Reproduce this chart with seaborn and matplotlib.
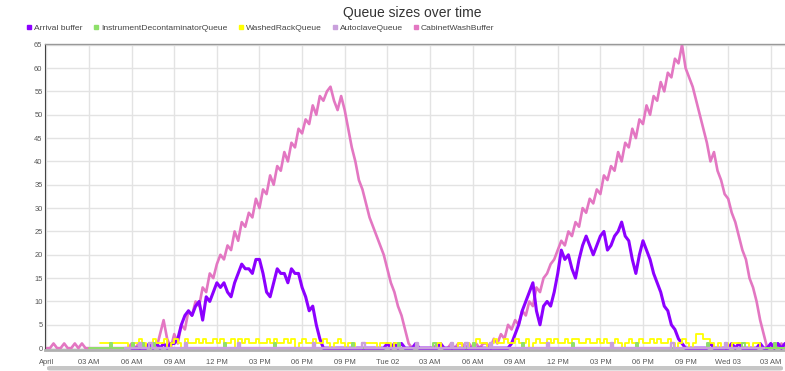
import numpy as np
import pandas as pd
import matplotlib
matplotlib.use("Agg")
import matplotlib.pyplot as plt
from matplotlib.lines import Line2D
from matplotlib.patches import FancyBboxPatch
import seaborn as sns

sns.set_theme(style="white")
plt.rcParams["font.family"] = ["Liberation Sans", "DejaVu Sans"]

# Sampling interval of the queue logs, in hours
STEP = 0.25

# CabinetWashBuffer, sampled every 15 min from 00:00 on April 1
cabinet_wash_start = 0.0
cabinet_wash = [
    0, 0, 1, 0, 0, 1, 0, 0, 1, 0, 1, 0,
    0, 0, 0, 0, 0, 0, 0, 0, 0, 0, 0, 0,
    1, 0, 1, 1, 0, 1, 1, 0, 3, 6, 2, 0,
    3, 1, 5, 4, 8, 7, 10, 9, 13, 12, 16, 15,
    18, 20, 19, 22, 21, 25, 23, 27, 26, 29, 28, 32,
    30, 34, 33, 37, 35, 39, 38, 42, 40, 44, 43, 47,
    46, 49, 48, 52, 50, 54, 53, 55, 56, 53, 51, 54,
    51, 47, 43, 40, 36, 34, 31, 28, 26, 24, 22, 20,
    17, 14, 12, 9, 7, 4, 1, 0, 0, 0, 0, 0,
    0, 0, 1, 0, 0, 0, 1, 0, 1, 1, 0, 1,
    0, 1, 0, 1, 1, 0, 2, 1, 3, 2, 5, 4,
    6, 5, 8, 7, 10, 9, 13, 12, 15, 16, 18, 19,
    21, 23, 22, 25, 24, 27, 26, 30, 29, 32, 31, 34,
    33, 37, 36, 39, 38, 42, 40, 44, 43, 47, 45, 49,
    48, 52, 50, 54, 53, 57, 55, 59, 58, 62, 61, 65,
    60, 58, 56, 53, 50, 47, 44, 40, 42, 38, 36, 33,
    32, 29, 27, 24, 21, 19, 15, 13, 10, 6, 3, 0,
    0, 1, 0, 1, 0,
]

# Arrival buffer, sampled every 15 min from 06:00 on April 1
arrival_start = 6.0
arrival = [
    0, 0, 0, 0, 0, 1, 0, 1, 0, 1, 0, 1,
    1, 2, 5, 7, 8, 7, 9, 10, 6, 11, 10, 12,
    14, 13, 14, 12, 11, 14, 16, 18, 17, 17, 16, 19,
    19, 16, 12, 11, 14, 17, 16, 16, 14, 17, 16, 16,
    13, 11, 8, 9, 5, 2, 0, 0, 0, 0, 0, 0,
    0, 0, 0, 0, 0, 0, 0, 0, 0, 0, 0, 0,
    1, 0, 1, 0, 1, 0, 0, 0, 1, 0, 0, 0,
    0, 0, 0, 1, 0, 0, 0, 0, 0, 0, 0, 0,
    0, 0, 0, 0, 0, 0, 0, 0, 0, 0, 0, 1,
    3, 5, 8, 10, 12, 14, 8, 5, 9, 10, 9, 12,
    16, 21, 19, 20, 17, 15, 19, 22, 24, 22, 20, 22,
    24, 25, 21, 22, 24, 25, 27, 24, 23, 19, 16, 20,
    23, 21, 19, 16, 14, 12, 9, 8, 5, 4, 2, 1,
    0, 0, 0, 0, 0, 0, 0, 1, 0, 0, 0, 0,
    0, 1, 0, 1, 0, 0, 0, 0, 0, 1, 0, 0,
    1, 0, 1, 0, 1,
]

# WashedRackQueue, sampled every 15 min from 03:45 on April 1
washed_rack_start = 3.75
washed_rack = [
    1, 1, 1, 1, 1, 1, 1, 1, 0,
    1, 1, 2, 1, 0, 1, 2, 1, 1, 2, 0, 1,
    2, 1, 0, 2, 1, 1, 2, 1, 2, 1, 1, 2,
    1, 2, 1, 1, 2, 0, 2, 1, 2, 1, 1, 2,
    1, 1, 2, 1, 2, 1, 1, 2, 1, 2, 0, 1,
    2, 1, 1, 2, 1, 1, 2, 1, 0, 1, 2, 1,
    0, 1, 1, 0, 0, 1, 1, 1, 1, 0, 1, 1,
    1, 0, 1, 0, 0, 0, 0, 0, 0, 0, 0, 0,
    0, 0, 1, 0, 0, 0, 0, 0, 1, 0, 1, 0,
    1, 2, 1, 1, 0, 1, 2, 1, 1, 2, 1, 1,
    2, 1, 1, 2, 0, 1, 2, 1, 1, 2, 1, 2,
    1, 1, 2, 1, 2, 2, 1, 1, 2, 1, 1, 2,
    1, 2, 1, 1, 2, 1, 0, 1, 2, 1, 1, 2,
    1, 1, 2, 1, 2, 1, 1, 2, 1, 0, 1, 2,
    1, 0, 1, 3, 3, 2, 2, 1, 0, 1, 0, 1,
    0, 1, 1, 1, 1, 1, 0, 1, 1, 0, 0, 0,
    0, 0, 0, 0, 0,
]

# InstrumentDecontaminatorQueue, change points (hour, size)
decon_hours = [3.0, 4.5, 4.65, 6.0, 6.15, 6.75, 6.9, 7.5, 7.65, 12.5, 12.65,
               16.0, 16.15, 21.5, 21.65, 24.75, 24.9, 27.25, 27.4, 30.0, 30.15,
               33.5, 33.65, 37.0, 37.15, 41.5, 41.65, 46.5, 46.65, 49.0, 49.15,
               51.25, 51.4, 52.0]
decon_sizes = [0, 1, 0, 1, 0, 1, 0, 1, 0, 1, 0,
               1, 0, 1, 0, 1, 0, 1, 0, 1, 0,
               1, 0, 1, 0, 1, 0, 1, 0, 1, 0,
               1, 0, 0]

# AutoclaveQueue, change points (hour, size)
autoclave_hours = [5.5, 6.5, 6.65, 7.25, 7.4, 9.75, 9.9, 13.5, 13.65, 18.75, 18.9,
                   22.25, 22.4, 26.0, 26.15, 28.5, 28.65, 29.5, 29.65, 31.25, 31.4,
                   35.25, 35.4, 39.75, 39.9, 44.0, 44.15, 47.75, 47.9, 50.5]
autoclave_sizes = [0, 1, 0, 1, 0, 1, 0, 1, 0, 1, 0,
                   1, 0, 1, 0, 1, 0, 1, 0, 1, 0,
                   1, 0, 1, 0, 1, 0, 1, 0, 0]

series_names = ["Arrival buffer", "InstrumentDecontaminatorQueue",
                "WashedRackQueue", "AutoclaveQueue", "CabinetWashBuffer"]
series_colors = ["#8c00ff", "#8ee06a", "#ffff00", "#c9a0dc", "#e377c2"]

tick_hours = list(range(0, 52, 3))
tick_labels = ["April", "03 AM", "06 AM", "09 AM", "12 PM", "03 PM", "06 PM",
               "09 PM", "Tue 02", "03 AM", "06 AM", "09 AM", "12 PM", "03 PM",
               "06 PM", "09 PM", "Wed 03", "03 AM"]


def sampled(start, values, name):
    hours = start + STEP * np.arange(len(values))
    return pd.DataFrame({"hour": hours, "size": values, "queue": name})


def stepped(hours, values, name):
    return pd.DataFrame({"hour": hours, "size": values, "queue": name})


frames = {
    "Arrival buffer": sampled(arrival_start, arrival, series_names[0]),
    "InstrumentDecontaminatorQueue": stepped(decon_hours, decon_sizes, series_names[1]),
    "WashedRackQueue": sampled(washed_rack_start, washed_rack, series_names[2]),
    "AutoclaveQueue": stepped(autoclave_hours, autoclave_sizes, series_names[3]),
    "CabinetWashBuffer": sampled(cabinet_wash_start, cabinet_wash, series_names[4]),
}

# drawing order, stroke width and stroke style per queue
layer = {"CabinetWashBuffer": (2, 1.9, "default"),
         "Arrival buffer": (3, 2.2, "default"),
         "WashedRackQueue": (4, 1.3, "steps-post"),
         "InstrumentDecontaminatorQueue": (5, 1.4, "steps-post"),
         "AutoclaveQueue": (6, 1.7, "steps-post")}

W, H = 785, 371
fig = plt.figure(figsize=(W / 100, H / 100), dpi=100)
ax = fig.add_axes([45 / W, 21 / H, 740 / W, 306 / H])

for name, color in zip(series_names, series_colors):
    z, lw, ds = layer[name]
    sns.lineplot(data=frames[name], x="hour", y="size", ax=ax, color=color,
                 estimator=None, sort=False, drawstyle=ds,
                 linewidth=lw, zorder=z, legend=False)

ax.set_xlim(-0.1, 52.0)
ax.set_ylim(-0.4, 65.15)
ax.set_xticks(tick_hours)
ax.set_xticklabels(tick_labels)
ax.set_yticks(range(0, 66, 5))
ax.set_xlabel("")
ax.set_ylabel("")
ax.grid(True, color="#e3e3e3", linewidth=1.0)
ax.set_axisbelow(True)
ax.tick_params(axis="both", length=0, labelsize=5.4, labelcolor="#555555")
ax.tick_params(axis="x", pad=6.3)
ax.tick_params(axis="y", pad=1.8)

for side in ax.spines:
    ax.spines[side].set_visible(False)
ax.spines["left"].set_visible(True)
ax.spines["left"].set_color("#444444")
ax.spines["left"].set_linewidth(0.8)
ax.spines["bottom"].set_visible(True)
ax.spines["bottom"].set_color("#b0b0b0")
ax.spines["bottom"].set_linewidth(2.0)
ax.spines["top"].set_visible(True)
ax.spines["top"].set_color("#999999")
ax.spines["top"].set_linewidth(1.0)

# navigator strip beneath the time axis
fig.add_artist(FancyBboxPatch((47 / W, 0.5 / H), (W - 49) / W, 4.5 / H,
                              boxstyle="round,pad=0,rounding_size=0.004",
                              transform=fig.transFigure, facecolor="#c6c6c6",
                              edgecolor="none"))

fig.text(412 / W, 1 - 13 / H, "Queue sizes over time", ha="center",
         va="center", fontsize=10, color="#333333")

handles = [Line2D([], [], marker="s", linestyle="", color=c, markersize=3.5)
           for c in series_colors]
fig.legend(handles, series_names, loc="center left",
           bbox_to_anchor=(27 / W, 1 - 28.5 / H), ncol=5, frameon=False,
           fontsize=6.1, handlelength=0.55, handletextpad=0.3,
           columnspacing=1.3, borderpad=0, borderaxespad=0,
           labelcolor="#444444")

fig.savefig("out.png", dpi=100)
